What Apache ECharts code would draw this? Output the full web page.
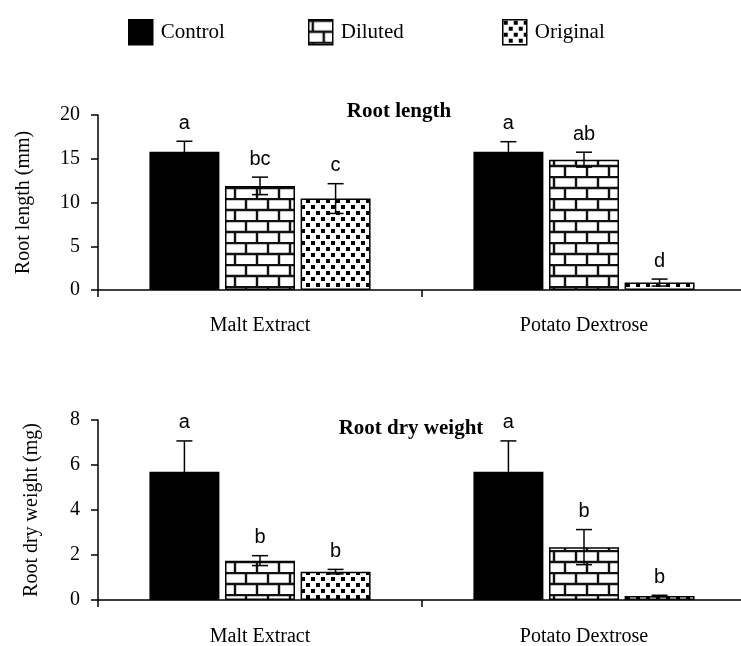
<!DOCTYPE html>
<html>
<head>
<meta charset="utf-8">
<script src="https://cdn.jsdelivr.net/npm/echarts@6/dist/echarts.min.js"></script>
<style>
  html, body { margin: 0; padding: 0; background: #fff; }
  #chart { width: 741px; height: 646px; }
</style>
</head>
<body>
<div id="chart"></div>
<script>
const categories = ['Malt Extract', 'Potato Dextrose'];
const seriesNames = ['Control', 'Diluted', 'Original'];

// Root length (mm)
const lengthControl = [15.8, 15.8];
const lengthDiluted = [11.9, 14.9];
const lengthOriginal = [10.45, 0.85];
const lengthControlErr = [1.2, 1.15];
const lengthDilutedErr = [1.0, 0.85];
const lengthOriginalErr = [1.7, 0.4];
const lengthLetters = [['a', 'a'], ['bc', 'ab'], ['c', 'd']];

// Root dry weight (mg)
const weightControl = [5.7, 5.7];
const weightDiluted = [1.75, 2.35];
const weightOriginal = [1.26, 0.18];
const weightControlErr = [1.37, 1.37];
const weightDilutedErr = [0.22, 0.78];
const weightOriginalErr = [0.1, 0.03];
const weightLetters = [['a', 'a'], ['b', 'b'], ['b', 'b']];

const lengthTicks = { min: 0, max: 20, interval: 5 };
const weightTicks = { min: 0, max: 8, interval: 2 };

const SERIF = '"Liberation Serif", "Times New Roman", serif';
const SANS = '"Liberation Sans", Arial, sans-serif';
const BAR_W = 0.216;
const BAR_GAP = 0.08;

function brickPattern() {
  const c = document.createElement('canvas');
  c.width = 22; c.height = 22;
  const ctx = c.getContext('2d');
  ctx.fillStyle = '#fff';
  ctx.fillRect(0, 0, 22, 22);
  ctx.strokeStyle = '#111';
  ctx.lineWidth = 2.4;
  ctx.beginPath();
  ctx.moveTo(0, 1); ctx.lineTo(22, 1);
  ctx.moveTo(0, 12); ctx.lineTo(22, 12);
  ctx.moveTo(4, 1); ctx.lineTo(4, 12);
  ctx.moveTo(15, 12); ctx.lineTo(15, 23);
  ctx.stroke();
  return c;
}

function dotPattern() {
  const c = document.createElement('canvas');
  c.width = 10; c.height = 12;
  const ctx = c.getContext('2d');
  ctx.fillStyle = '#fff';
  ctx.fillRect(0, 0, 10, 12);
  ctx.fillStyle = '#000';
  ctx.fillRect(1, 1, 4, 4);
  ctx.fillRect(6, 7, 4, 4);
  return c;
}

const fills = [
  '#000',
  { image: brickPattern(), repeat: 'repeat' },
  { image: dotPattern(), repeat: 'repeat' }
];

function barSeries(values, idx, axis) {
  return {
    type: 'bar',
    name: seriesNames[idx],
    xAxisIndex: axis,
    yAxisIndex: axis,
    data: values,
    barWidth: (BAR_W * 100) + '%',
    barGap: (BAR_GAP * 100) + '%',
    itemStyle: { color: fills[idx], borderColor: '#000', borderWidth: 1.5 },
    emphasis: { disabled: true },
    z: 2
  };
}

// error bars + significance letters, placed with the axis scale
function errorSeries(valueSets, errSets, letters, axis) {
  const data = [];
  valueSets.forEach((vals, s) => {
    vals.forEach((v, c) => {
      data.push([c, v, errSets[s][c], s, letters[s][c]]);
    });
  });
  return {
    type: 'custom',
    xAxisIndex: axis,
    yAxisIndex: axis,
    data: data,
    z: 5,
    silent: true,
    renderItem: function (params, api) {
      const cat = api.value(0);
      const v = api.value(1);
      const e = api.value(2);
      const s = api.value(3);
      const letter = data[params.dataIndex][4];
      const band = api.size([1, 0])[0];
      const w = band * BAR_W;
      const x = api.coord([cat, v])[0] + (s - 1) * w * (1 + BAR_GAP);
      const yTop = api.coord([cat, v + e])[1];
      const yBot = api.coord([cat, Math.max(v - e, 0)])[1];
      const cap = 8;
      const style = { stroke: '#000', lineWidth: 1.5 };
      return {
        type: 'group',
        children: [
          { type: 'line', shape: { x1: x, y1: yTop, x2: x, y2: yBot }, style: style },
          { type: 'line', shape: { x1: x - cap, y1: yTop, x2: x + cap, y2: yTop }, style: style },
          { type: 'line', shape: { x1: x - cap, y1: yBot, x2: x + cap, y2: yBot }, style: style },
          {
            type: 'text',
            style: {
              x: x, y: yTop - 8, text: letter,
              align: 'center', verticalAlign: 'bottom',
              font: '20px ' + SANS, fill: '#000'
            }
          }
        ]
      };
    }
  };
}

function xAxis(grid, margin) {
  return {
    type: 'category',
    gridIndex: grid,
    data: categories,
    axisLine: { lineStyle: { color: '#000', width: 1.5 } },
    axisTick: { show: true, length: 7, lineStyle: { color: '#000', width: 1.5 } },
    axisLabel: { color: '#000', fontFamily: SERIF, fontSize: 20, margin: margin },
    splitLine: { show: false }
  };
}

function yAxis(grid, ticks, name, gap) {
  return {
    type: 'value',
    gridIndex: grid,
    min: ticks.min,
    max: ticks.max,
    interval: ticks.interval,
    name: name,
    nameLocation: 'middle',
    nameGap: gap,
    nameTextStyle: { color: '#000', fontFamily: SERIF, fontSize: 20 },
    axisLine: { show: true, lineStyle: { color: '#000', width: 1.5 } },
    axisTick: { show: true, length: 7, lineStyle: { color: '#000', width: 1.5 } },
    axisLabel: { color: '#000', fontFamily: SERIF, fontSize: 20, margin: 18 },
    splitLine: { show: false }
  };
}

function legend(idx, left) {
  return {
    data: [seriesNames[idx]],
    left: left,
    top: 14,
    icon: 'rect',
    itemWidth: 24,
    itemHeight: 25,
    selectedMode: false,
    textStyle: { color: '#000', fontFamily: SERIF, fontSize: 21, padding: [0, 0, 0, 3] },
    itemStyle: { borderColor: '#000', borderWidth: 1.5 }
  };
}

const chart = echarts.init(document.getElementById('chart'));
chart.setOption({
  animation: false,
  backgroundColor: '#fff',
  title: [
    {
      text: 'Root length', left: 394, top: 96, textAlign: 'center',
      textStyle: { color: '#000', fontFamily: SERIF, fontSize: 21, fontWeight: 'bold' }
    },
    {
      text: 'Root dry weight', left: 406, top: 413, textAlign: 'center',
      textStyle: { color: '#000', fontFamily: SERIF, fontSize: 21, fontWeight: 'bold' }
    }
  ],
  legend: [legend(0, 123), legend(1, 303), legend(2, 497)],
  grid: [
    { left: 98, top: 115, width: 648, height: 175, outerBoundsMode: 'none' },
    { left: 98, top: 420, width: 648, height: 180, outerBoundsMode: 'none' }
  ],
  xAxis: [xAxis(0, 26), xAxis(1, 27)],
  yAxis: [
    yAxis(0, lengthTicks, 'Root length (mm)', 64),
    yAxis(1, weightTicks, 'Root dry weight (mg)', 56)
  ],
  series: [
    barSeries(lengthControl, 0, 0),
    barSeries(lengthDiluted, 1, 0),
    barSeries(lengthOriginal, 2, 0),
    errorSeries([lengthControl, lengthDiluted, lengthOriginal],
      [lengthControlErr, lengthDilutedErr, lengthOriginalErr], lengthLetters, 0),
    barSeries(weightControl, 0, 1),
    barSeries(weightDiluted, 1, 1),
    barSeries(weightOriginal, 2, 1),
    errorSeries([weightControl, weightDiluted, weightOriginal],
      [weightControlErr, weightDilutedErr, weightOriginalErr], weightLetters, 1)
  ]
});
</script>
</body>
</html>
